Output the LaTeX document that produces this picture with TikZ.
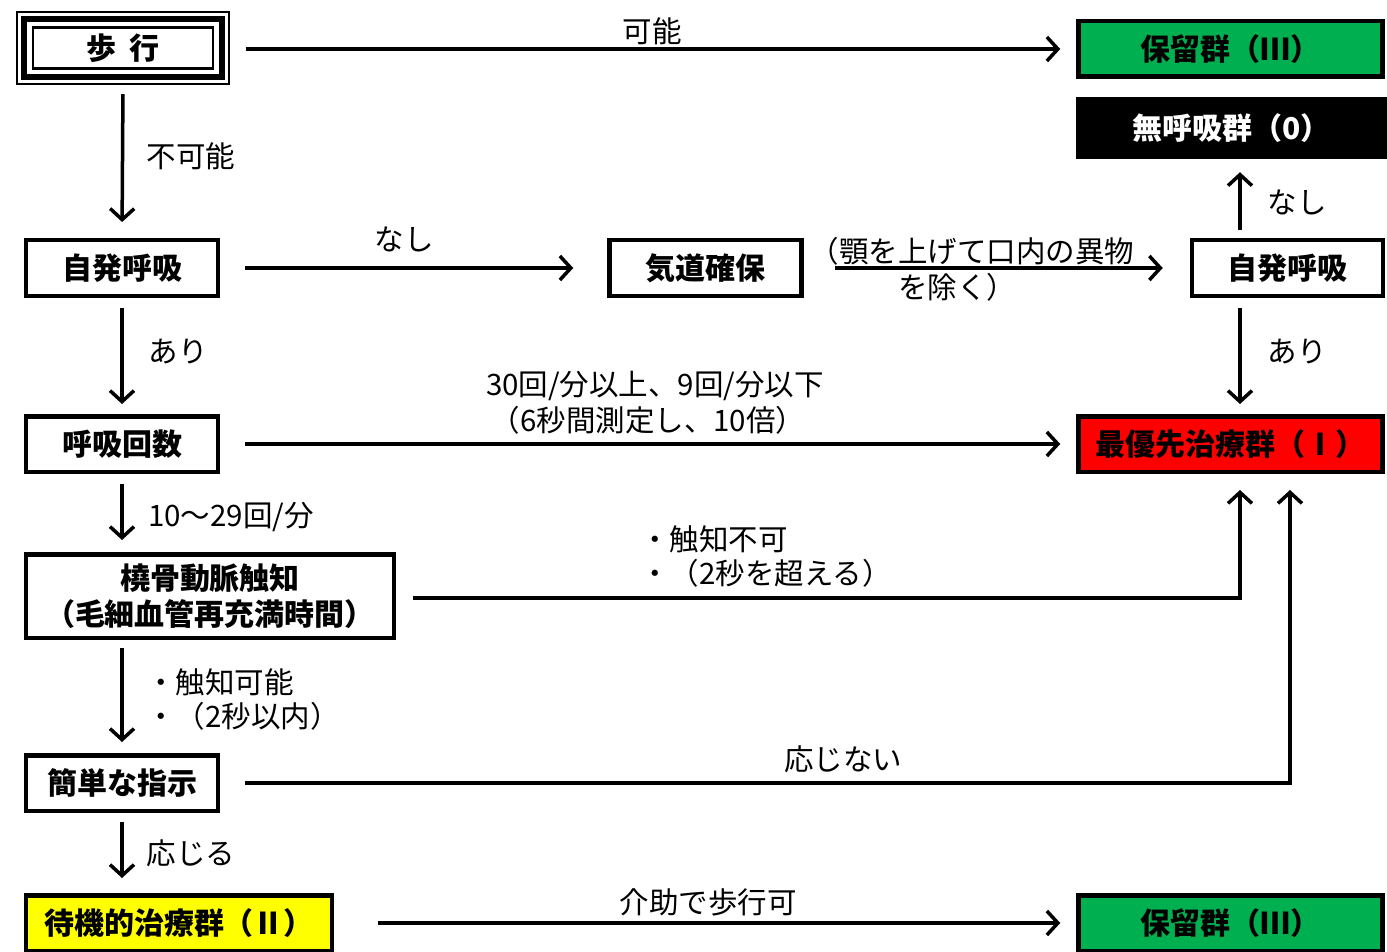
\documentclass[tikz,border=0pt]{standalone}
\usepackage{fontspec}
\setmainfont{Noto Sans CJK JP}
\usetikzlibrary{arrows.meta,calc}
\definecolor{grp3}{HTML}{00B050}
\definecolor{grp1}{HTML}{FF0000}
\definecolor{grp2}{HTML}{FFFF00}
\begin{document}
\begin{tikzpicture}[x=1pt,y=-1pt,
  box/.style={draw=black, line width=4.5pt, minimum height=55.5pt, inner sep=0pt,
    font=\fontsize{30}{34}\selectfont\bfseries},
  lbl/.style={inner sep=0pt, font=\fontsize{29.5}{34}\selectfont},
  arr/.style={line width=3.5pt, -{Straight Barb[length=11pt,width=24pt]}}]
\useasboundingbox (0,0) rectangle (1387,952);
% nodes
\node[inner sep=0pt, minimum width=211pt, minimum height=72pt, font=\fontsize{30}{34}\selectfont\bfseries] (walk) at (123,48) {歩\hspace{0.45em}行};
\draw[line width=2pt] (walk.north west) rectangle (walk.south east);
\draw[line width=6pt] ($(walk.north west)+(7,7)$) rectangle ($(walk.south east)+(-7,-7)$);
\draw[line width=2.5pt] ($(walk.north west)+(15.5,15.5)$) rectangle ($(walk.south east)+(-15.5,-15.5)$);
\node[box, fill=grp3, minimum width=304pt] (hold1) at (1230.5,49) {保留群（Ⅲ）};
\node[box, draw=black, fill=black, text=white, minimum width=307pt, minimum height=58pt] (apnea) at (1231.5,128) {無呼吸群（0）};
\node[box, minimum width=192pt] (sp1) at (122,268) {自発呼吸};
\node[box, minimum width=192pt] (air) at (705.5,268) {気道確保};
\node[box, minimum width=191pt] (sp2) at (1287.5,268) {自発呼吸};
\node[box, minimum width=192pt] (rr) at (122,444) {呼吸回数};
\node[box, fill=grp1, minimum width=304pt] (red) at (1230.5,444) {最優先治療群（Ⅰ）};
\node[box, minimum width=368pt, minimum height=83.5pt, align=center, font=\fontsize{30}{36}\selectfont\bfseries] (rad) at (210,596) {橈骨動脈触知\\（毛細血管再充満時間）};
\node[box, minimum width=192pt] (cmd) at (122,783) {簡単な指示};
\node[box, fill=grp2, minimum width=306pt] (wait) at (179,923) {待機的治療群（Ⅱ）};
\node[box, fill=grp3, minimum width=304pt] (hold2) at (1230.5,923) {保留群（Ⅲ）};
\coordinate (s2n) at ($(sp2.north)+(-47.5,0)$);
\coordinate (s2s) at ($(sp2.south)+(-47.5,0)$);
\coordinate (redA) at ($(red.south)+(9.5,0)$);
\coordinate (redB) at ($(red.south)+(59.5,0)$);
% connectors
\draw[arr, shorten <=17pt, shorten >=16pt] (walk.east |- hold1.west) -- (hold1.west);
\draw[arr, shorten <=10pt, shorten >=16pt] (walk.south) -- (sp1.north);
\draw[arr, shorten <=25pt, shorten >=34pt] (sp1.east) -- (air.west);
\draw[arr, shorten <=31pt, shorten >=27pt] (air.east) -- (sp2.west);
\draw[arr, shorten <=8pt, shorten >=13pt] (s2n) -- (s2n |- apnea.south);
\draw[arr, shorten <=10pt, shorten >=10pt] (s2s) -- (s2s |- red.north);
\draw[arr, shorten <=10pt, shorten >=10pt] (sp1.south) -- (rr.north);
\draw[arr, shorten <=25pt, shorten >=16pt] (rr.east) -- (red.west);
\draw[arr, shorten <=10pt, shorten >=12pt] (rr.south) -- (rr.south |- rad.north);
\draw[arr, shorten <=17pt, shorten >=16pt] ($(rad.east)+(0,2)$) -| (redA);
\draw[arr, shorten <=8pt, shorten >=11pt] (rad.south -| cmd.north) -- (cmd.north);
\draw[arr, shorten <=25pt, shorten >=16pt] (cmd.east) -| (redB);
\draw[arr, shorten <=9pt, shorten >=15pt] (cmd.south) -- (cmd.south |- wait.north);
\draw[arr, shorten <=44pt, shorten >=16pt] (wait.east) -- (hold2.west);
% labels
\node[lbl] (l1) at (652,31) {可能};
\node[lbl] (l2) at (191,156) {不可能};
\node[lbl] (l3) at (404,239) {なし};
\node[lbl] (l4a) at (972,251) {（顎を上げて口内の異物};
\node[lbl] (l4b) at (957,287) {を除く）};
\node[lbl] (l5) at (1297,202) {なし};
\node[lbl] (l6) at (1297,352) {あり};
\node[lbl] (l7) at (178,352) {あり};
\node[lbl] (l8a) at (655,386) {30回/分以上、9回/分以下};
\node[lbl] (l8b) at (648,420) {（6秒間測定し、10倍）};
\node[lbl, anchor=west] (l9) at (148,517) {10～29回/分};
\node[lbl, anchor=west] (l10a) at (640,539) {・触知不可};
\node[lbl, anchor=west] (l10b) at (640,573) {・（2秒を超える）};
\node[lbl, anchor=west] (l11a) at (146,682) {・触知可能};
\node[lbl, anchor=west] (l11b) at (146,716) {・（2秒以内）};
\node[lbl] (l12) at (843,759) {応じない};
\node[lbl] (l13) at (191,853) {応じる};
\node[lbl] (l14) at (708,902) {介助で歩行可};
\end{tikzpicture}
\end{document}
